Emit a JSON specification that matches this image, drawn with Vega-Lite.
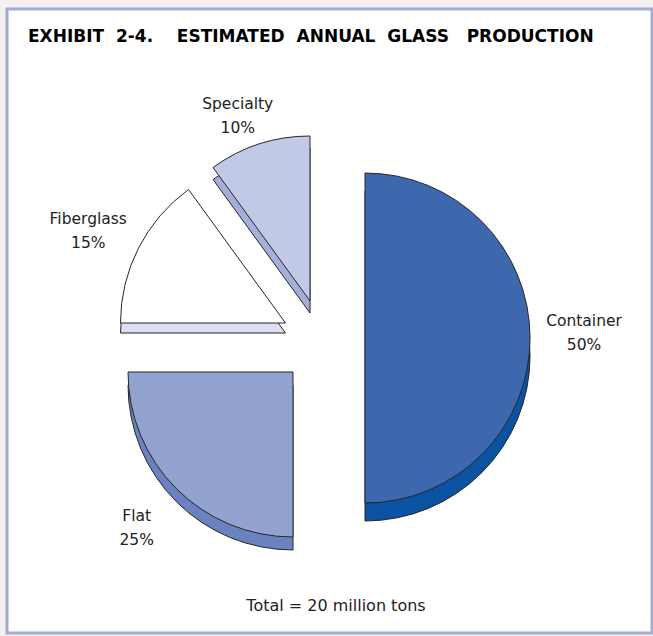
{
  "$schema": "https://vega.github.io/schema/vega-lite/v6.json",
  "width": 645,
  "height": 624,
  "autosize": "none",
  "padding": {"left": 7, "top": 9, "right": 1, "bottom": 3},
  "background": "#f4eff0",
  "view": {"fill": "#ffffff", "stroke": "#a3acd4", "strokeWidth": 3},
  "config": {
    "text": {"font": "DejaVu Sans", "fontSize": 15.5, "color": "#222"},
    "arc": {"stroke": "#262626", "strokeWidth": 1}
  },
  "title": {
    "text": "EXHIBIT\u00a0\u00a02-4.\u00a0\u00a0\u00a0\u00a0ESTIMATED\u00a0\u00a0ANNUAL\u00a0\u00a0GLASS\u00a0\u00a0\u00a0PRODUCTION",
    "anchor": "start",
    "frame": "group",
    "baseline": "alphabetic",
    "offset": -50,
    "dx": 21,
    "font": "DejaVu Sans",
    "fontSize": 17,
    "fontWeight": "bold",
    "color": "#000"
  },
  "data": {
    "values": [
      {"category": "Container", "share": 0.5},
      {"category": "Flat", "share": 0.25},
      {"category": "Fiberglass", "share": 0.15},
      {"category": "Specialty", "share": 0.1}
    ]
  },
  "transform": [{"stack": "share", "groupby": [], "as": ["t0", "t1"]}],
  "layer": [
    {
      "transform": [{"filter": "datum.category === 'Container'"}],
      "mark": {"type": "arc", "outerRadius": 165, "fill": "#0a52a2", "xOffset": 35.5, "yOffset": 35},
      "encoding": {
        "theta": {"field": "t0", "type": "quantitative", "scale": {"domain": [0, 1]}},
        "theta2": {"field": "t1"}
      }
    },
    {
      "transform": [{"filter": "datum.category === 'Flat'"}],
      "mark": {"type": "arc", "outerRadius": 165, "fill": "#6a82c0", "xOffset": -36.5, "yOffset": 64},
      "encoding": {
        "theta": {"field": "t0", "type": "quantitative", "scale": {"domain": [0, 1]}},
        "theta2": {"field": "t1"}
      }
    },
    {
      "transform": [{"filter": "datum.category === 'Fiberglass'"}],
      "mark": {"type": "arc", "outerRadius": 165, "fill": "#dcdff2", "xOffset": -44, "yOffset": 12},
      "encoding": {
        "theta": {"field": "t0", "type": "quantitative", "scale": {"domain": [0, 1]}},
        "theta2": {"field": "t1"}
      }
    },
    {
      "transform": [{"filter": "datum.category === 'Specialty'"}],
      "mark": {"type": "arc", "outerRadius": 165, "fill": "#a6afd9", "xOffset": -19.5, "yOffset": -8},
      "encoding": {
        "theta": {"field": "t0", "type": "quantitative", "scale": {"domain": [0, 1]}},
        "theta2": {"field": "t1"}
      }
    },
    {
      "transform": [{"filter": "datum.category === 'Container'"}],
      "mark": {"type": "arc", "outerRadius": 165, "fill": "#3d68ae", "xOffset": 35.5, "yOffset": 17},
      "encoding": {
        "theta": {"field": "t0", "type": "quantitative", "scale": {"domain": [0, 1]}},
        "theta2": {"field": "t1"}
      }
    },
    {
      "transform": [{"filter": "datum.category === 'Flat'"}],
      "mark": {"type": "arc", "outerRadius": 165, "fill": "#93a3cf", "xOffset": -36.5, "yOffset": 51},
      "encoding": {
        "theta": {"field": "t0", "type": "quantitative", "scale": {"domain": [0, 1]}},
        "theta2": {"field": "t1"}
      }
    },
    {
      "transform": [{"filter": "datum.category === 'Fiberglass'"}],
      "mark": {"type": "arc", "outerRadius": 165, "fill": "#ffffff", "xOffset": -44, "yOffset": 2},
      "encoding": {
        "theta": {"field": "t0", "type": "quantitative", "scale": {"domain": [0, 1]}},
        "theta2": {"field": "t1"}
      }
    },
    {
      "transform": [{"filter": "datum.category === 'Specialty'"}],
      "mark": {"type": "arc", "outerRadius": 165, "fill": "#c2c9e6", "xOffset": -19.5, "yOffset": -20},
      "encoding": {
        "theta": {"field": "t0", "type": "quantitative", "scale": {"domain": [0, 1]}},
        "theta2": {"field": "t1"}
      }
    },
    {
      "mark": {"type": "text", "radius": 219, "xOffset": 35.5, "yOffset": 17, "dy": -17},
      "encoding": {
        "theta": {"field": "share", "type": "quantitative", "stack": true, "scale": {"domain": [0, 1]}},
        "order": {"field": "t0", "type": "quantitative"},
        "text": {"condition": {"test": "datum.category === 'Container'", "field": "category", "type": "nominal"}, "value": ""}
      }
    },
    {
      "mark": {"type": "text", "radius": 219, "xOffset": 35.5, "yOffset": 17, "dy": 7},
      "encoding": {
        "theta": {"field": "share", "type": "quantitative", "stack": true, "scale": {"domain": [0, 1]}},
        "order": {"field": "t0", "type": "quantitative"},
        "text": {"condition": {"test": "datum.category === 'Container'", "field": "share", "type": "quantitative", "format": ".0%"}, "value": ""}
      }
    },
    {
      "mark": {"type": "text", "radius": 221, "xOffset": -36.5, "yOffset": 51, "dy": -12},
      "encoding": {
        "theta": {"field": "share", "type": "quantitative", "stack": true, "scale": {"domain": [0, 1]}},
        "order": {"field": "t0", "type": "quantitative"},
        "text": {"condition": {"test": "datum.category === 'Flat'", "field": "category", "type": "nominal"}, "value": ""}
      }
    },
    {
      "mark": {"type": "text", "radius": 221, "xOffset": -36.5, "yOffset": 51, "dy": 12},
      "encoding": {
        "theta": {"field": "share", "type": "quantitative", "stack": true, "scale": {"domain": [0, 1]}},
        "order": {"field": "t0", "type": "quantitative"},
        "text": {"condition": {"test": "datum.category === 'Flat'", "field": "share", "type": "quantitative", "format": ".0%"}, "value": ""}
      }
    },
    {
      "mark": {"type": "text", "radius": 218, "xOffset": -44, "yOffset": 2, "dy": -5, "dx": -3},
      "encoding": {
        "theta": {"field": "share", "type": "quantitative", "stack": true, "scale": {"domain": [0, 1]}},
        "order": {"field": "t0", "type": "quantitative"},
        "text": {"condition": {"test": "datum.category === 'Fiberglass'", "field": "category", "type": "nominal"}, "value": ""}
      }
    },
    {
      "mark": {"type": "text", "radius": 218, "xOffset": -44, "yOffset": 2, "dy": 19, "dx": -3},
      "encoding": {
        "theta": {"field": "share", "type": "quantitative", "stack": true, "scale": {"domain": [0, 1]}},
        "order": {"field": "t0", "type": "quantitative"},
        "text": {"condition": {"test": "datum.category === 'Fiberglass'", "field": "share", "type": "quantitative", "format": ".0%"}, "value": ""}
      }
    },
    {
      "mark": {"type": "text", "radius": 195, "xOffset": -19.5, "yOffset": -20, "dy": -12, "dx": -12},
      "encoding": {
        "theta": {"field": "share", "type": "quantitative", "stack": true, "scale": {"domain": [0, 1]}},
        "order": {"field": "t0", "type": "quantitative"},
        "text": {"condition": {"test": "datum.category === 'Specialty'", "field": "category", "type": "nominal"}, "value": ""}
      }
    },
    {
      "mark": {"type": "text", "radius": 195, "xOffset": -19.5, "yOffset": -20, "dy": 12, "dx": -12},
      "encoding": {
        "theta": {"field": "share", "type": "quantitative", "stack": true, "scale": {"domain": [0, 1]}},
        "order": {"field": "t0", "type": "quantitative"},
        "text": {"condition": {"test": "datum.category === 'Specialty'", "field": "share", "type": "quantitative", "format": ".0%"}, "value": ""}
      }
    },
    {
      "data": {"values": [{"note": "Total = 20 million tons"}]},
      "mark": {"type": "text", "baseline": "alphabetic", "xOffset": 6.5, "yOffset": 290, "fontSize": 16},
      "encoding": {
        "text": {"field": "note", "type": "nominal"}
      }
    }
  ]
}
